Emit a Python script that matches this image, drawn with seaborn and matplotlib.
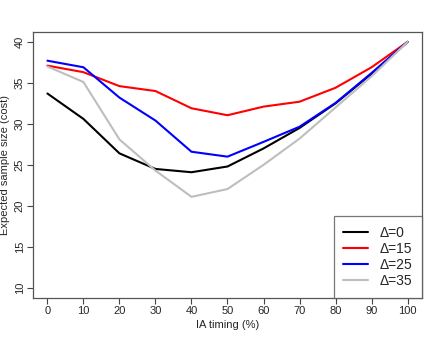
import matplotlib
matplotlib.use("Agg")
import matplotlib.pyplot as plt
import seaborn as sns
import pandas as pd

timing = [0, 10, 20, 30, 40, 50, 60, 70, 80, 90, 100]
delta0 = [33.7, 30.6, 26.4, 24.5, 24.1, 24.8, 27.0, 29.5, 32.5, 36.1, 40.0]
delta15 = [37.1, 36.3, 34.6, 34.0, 31.9, 31.05, 32.1, 32.7, 34.4, 36.9, 40.0]
delta25 = [37.7, 36.9, 33.2, 30.4, 26.6, 26.0, 27.8, 29.65, 32.55, 36.2, 40.0]
delta35 = [37.0, 35.1, 28.1, 24.3, 21.1, 22.05, 25.0, 28.2, 32.0, 35.8, 40.0]
labels = ["Δ=0", "Δ=15", "Δ=25", "Δ=35"]
colors = ["black", "red", "blue", "#BEBEBE"]

rows = []
for lab, vals in zip(labels, [delta0, delta15, delta25, delta35]):
    for t, v in zip(timing, vals):
        rows.append({"timing": t, "ess": v, "delta": lab})
df = pd.DataFrame(rows)

sns.set_style("white")
plt.rcParams["font.family"] = ["Liberation Sans", "DejaVu Sans"]

fig = plt.figure(figsize=(4.39, 3.39), dpi=100)
ax = fig.add_axes([33/439, 1 - 297.7/339, (422 - 33)/439, (297.7 - 32)/339])
sns.lineplot(data=df, x="timing", y="ess", hue="delta", palette=colors,
             hue_order=labels, linewidth=1.5, ax=ax, legend=False)

ax.set_xlim(-4, 104)
ax.set_ylim(8.8, 41.2)
ax.set_xticks(timing)
ax.set_yticks([10, 15, 20, 25, 30, 35, 40])
ax.tick_params(axis="both", direction="out", length=4, width=0.8, color="#444444",
               labelsize=8, pad=2, bottom=True, left=True)
for lbl in ax.get_yticklabels():
    lbl.set_rotation(90)
    lbl.set_va("center")
for s in ax.spines.values():
    s.set_color("#555555")
    s.set_linewidth(0.9)
ax.set_xlabel("IA timing (%)", fontsize=8, labelpad=3)
ax.set_ylabel("Expected sample size (cost)", fontsize=8, labelpad=3)

handles = [plt.Line2D([0], [0], color=c, lw=1.5) for c in colors]
leg = ax.legend(handles, labels, loc="lower right", fontsize=10, frameon=True,
                fancybox=False, borderaxespad=0, handlelength=1.8,
                handletextpad=0.8, labelspacing=0.15, borderpad=0.7)
leg.get_frame().set_edgecolor("#555555")
leg.get_frame().set_linewidth(0.9)

fig.savefig("out.png", dpi=100)
